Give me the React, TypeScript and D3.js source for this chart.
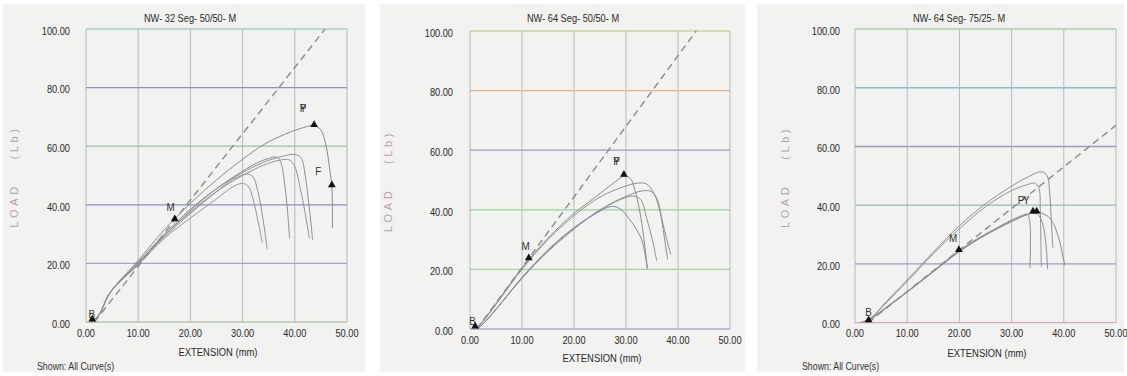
import React from 'react';
import * as d3 from 'd3';

type Pt = [number, number];

// ---------- shared ticks / labels ----------
const xTicks = [0, 10, 20, 30, 40, 50];
const yTicks = [0, 20, 40, 60, 80, 100];
const titles = ['NW- 32 Seg- 50/50- M', 'NW- 64 Seg- 50/50- M', 'NW- 64 Seg- 75/25- M'];
const xAxisTitle = 'EXTENSION  (mm)';
const yAxisTitleA = 'LOAD';
const yAxisTitleB = '(Lb)';
const footer = 'Shown: All Curve(s)';

// ---------- panel 1 : NW-32 Seg 50/50 ----------
const p1c1: Pt[] = [[1, 0], [2.5, 2.5], [4.6, 10], [10, 21], [15, 31.5], [20, 40.5], [25, 48.5], [30, 55.5], [34, 60.5], [38, 64], [41, 66], [43.7, 67], [45, 65.5], [46, 60], [46.7, 52], [47.1, 46.4], [47.2, 39], [47.2, 32]];
const p1c2: Pt[] = [[1, 0], [2.5, 2.5], [4.6, 10], [10, 20.5], [15, 30], [20, 38.5], [25, 45.5], [30, 51], [34, 54.5], [37.5, 56.5], [40, 57.2], [41.2, 56], [42, 50], [42.7, 40], [43.2, 32], [43.4, 28]];
const p1c3: Pt[] = [[1, 0], [2.5, 2.5], [4.6, 10], [10, 20], [15, 29.5], [20, 37.5], [25, 44.5], [30, 50], [34, 53.5], [37, 55.2], [39, 55.3], [40, 53], [41, 46], [42, 37], [42.8, 28.5]];
const p1c4: Pt[] = [[1, 0], [2.5, 2.5], [4.6, 10], [10, 20], [15, 29.5], [20, 38], [25, 45.5], [30, 51.5], [33, 54.5], [35, 55.8], [36.5, 56.3], [37.3, 54.5], [38, 48], [38.6, 38], [39, 28.5]];
const p1c5: Pt[] = [[1, 0], [2.5, 2.5], [4.6, 10], [10, 19.5], [15, 28.5], [20, 35.5], [25, 42], [28, 46], [29.8, 47.3], [31, 46.5], [32, 42], [33, 34], [33.8, 27]];
const p1c6: Pt[] = [[1, 0], [2.5, 2.5], [4.6, 10], [10, 20], [15, 29], [20, 37], [25, 44.5], [28, 48.5], [31, 50.5], [32, 49.5], [33, 44], [34, 34], [34.7, 25]];
const p1Dashed: Pt[] = [[1.6, 0], [45.8, 100]];
const p1Markers: Pt[] = [[1.2, 0.6], [17, 34.8], [43.7, 67], [47.1, 46.4]];
const p1LabelText = ['B', 'M', 'P', 'Y', 'F'];
const p1LabelPos: Pt[] = [[1.1, 2.6], [16.2, 39], [41.6, 72.9], [41.6, 72.9], [44.5, 51.3]];

// ---------- panel 2 : NW-64 Seg 50/50 ----------
const p2c1: Pt[] = [[1.2, 0], [3, 3.8], [6, 11], [10, 20.5], [15, 30.5], [20, 38.8], [23, 42.8], [26, 46.8], [28, 49.5], [29.6, 51.3], [30.8, 50.6], [31.8, 46], [32.8, 38], [33.6, 28], [34.1, 20.5]];
const p2c2: Pt[] = [[1.2, 0], [3, 3.6], [6, 10.6], [10, 20], [15, 30], [20, 38], [25, 44.3], [30, 48], [32.5, 49], [34, 48.6], [35.4, 45.5], [36.6, 39], [37.7, 31], [38.6, 25]];
const p2c3: Pt[] = [[1.5, 0], [3, 2.6], [6, 8.7], [10, 17], [15, 26], [20, 33.5], [25, 40], [30, 44.5], [33, 46.3], [34.8, 46.2], [36, 43.5], [37, 35], [37.6, 28], [38, 23.4]];
const p2c4: Pt[] = [[1.5, 0], [3, 2.6], [6, 8.7], [10, 17.3], [15, 26.3], [20, 33.8], [25, 39.7], [29, 43.5], [31.5, 44.6], [32.8, 43.5], [34, 37], [35.2, 29], [35.9, 22.8]];
const p2c5: Pt[] = [[1.5, 0], [3, 2.6], [6, 8.7], [10, 17.2], [15, 26.6], [20, 34], [24, 38.6], [27.2, 41.1], [28.8, 40.4], [30.6, 37], [32, 33.5], [33.2, 29], [34.1, 20]];
const p2Dashed: Pt[] = [[1.3, 0], [43.5, 100]];
const p2Markers: Pt[] = [[1, 0.6], [11.3, 23.5], [29.6, 51.5]];
const p2LabelText = ['B', 'M', 'P', 'Y'];
const p2LabelPos: Pt[] = [[0.5, 2.7], [10.7, 27.6], [28.2, 56.4], [28.2, 56.4]];

// ---------- panel 3 : NW-64 Seg 75/25 ----------
const p3c1: Pt[] = [[1, 0], [3, 1.6], [6, 7.2], [10, 14.6], [15, 24], [20, 33], [25, 40.5], [30, 46.5], [33, 49.5], [35.7, 51.4], [36.8, 50], [37.3, 44], [37.6, 35], [37.9, 25.5]];
const p3c2: Pt[] = [[1, 0], [3, 1.5], [6, 6.8], [10, 14], [15, 23.5], [20, 32], [25, 39.5], [30, 45], [33, 47], [34.4, 47.5], [35.2, 46], [35.5, 38], [35.6, 28], [35.7, 19]];
const p3c3: Pt[] = [[2, 0], [4, 2.6], [7, 6.6], [10, 10.6], [15, 17.6], [20, 24.6], [25, 30.2], [30, 34.6], [32.5, 36.5], [34.7, 37.6], [36.2, 37], [37.6, 35], [39, 29], [39.9, 22], [40.2, 19.5]];
const p3c4: Pt[] = [[2, 0], [4, 2.4], [7, 6.4], [10, 10.4], [15, 17.3], [20, 24.2], [25, 30], [30, 35], [32, 36.5], [33, 37], [33.5, 34], [33.6, 25], [33.5, 18.5]];
const p3c5: Pt[] = [[2, 0], [4, 2.5], [7, 6.5], [10, 10.5], [15, 17.4], [20, 24.4], [25, 29.8], [30, 34.4], [33, 36.8], [34.7, 37.3], [35.7, 35], [36.5, 28], [36.9, 18.2]];
const p3Dashed: Pt[] = [[2.5, 0], [50, 67.2]];
const p3Markers: Pt[] = [[2.6, 0.6], [19.9, 24.5], [34.1, 37.6], [34.8, 37.6]];
const p3LabelText = ['B', 'M', 'P', 'Y'];
const p3LabelPos: Pt[] = [[2.6, 3.4], [18.8, 28.7], [31.8, 41.8], [32.8, 41.8]];

// ---------- layout (pixel boxes and styles) ----------
const panels = [
  {
    curves: [p1c1, p1c2, p1c3, p1c4, p1c5, p1c6], curveColors: ['#8a8a8a', '#8f8f8f', '#939393', '#8d8d8d', '#969696', '#909090'],
    dashed: p1Dashed, markers: p1Markers, labelText: p1LabelText, labelPos: p1LabelPos,
    title: titles[0], left: 86, right: 347, top: 29, bottom: 322, paper: [3, 365],
    hColors: ['#b7c9b0', '#b39ccc', '#8a8cc4', '#8fc2a8', '#8a90c8', '#a8cfc0'],
    titleX: 190, extX: 218, extY: 352, yLabX: 70, axisLabX: 14, footerX: 37,
  },
  {
    curves: [p2c1, p2c2, p2c3, p2c4, p2c5], curveColors: ['#8a8a8a', '#909090', '#8c8c8c', '#939393', '#7f86a8'],
    dashed: p2Dashed, markers: p2Markers, labelText: p2LabelText, labelPos: p2LabelPos,
    title: titles[1], left: 470, right: 730, top: 31, bottom: 329, paper: [380, 745],
    hColors: ['#b6a4d2', '#a6d29c', '#9bd09a', '#9c9cc0', '#e2b488', '#c8d6a0'],
    titleX: 573, extX: 602, extY: 358, yLabX: 453, axisLabX: 388, footerX: -1,
  },
  {
    curves: [p3c1, p3c2, p3c3, p3c4, p3c5], curveColors: ['#8e8e8e', '#939393', '#8a8a8a', '#909090', '#8c8c8c'],
    dashed: p3Dashed, markers: p3Markers, labelText: p3LabelText, labelPos: p3LabelPos,
    title: titles[2], left: 855, right: 1116, top: 29, bottom: 322.7, paper: [757, 1124],
    hColors: ['#d6a8c4', '#9a9ad0', '#96b8b4', '#a896bc', '#86bccc', '#a8d2a8'],
    titleX: 959, extX: 987, extY: 353, yLabX: 840, axisLabX: 785, footerX: 802,
  },
];

const FONT = 'Arial, "Liberation Sans", Helvetica, sans-serif';

function Txt(props: { x: number; y: number; sx?: number; size: number; anchor?: string; fill?: string; children: React.ReactNode; weight?: number; ls?: number; rotate?: number }) {
  const { x, y, sx = 1, size, anchor = 'middle', fill = '#222', children, weight = 400, ls = 0, rotate = 0 } = props;
  return (
    <text
      transform={`translate(${x},${y}) rotate(${rotate}) scale(${sx},1)`}
      fontSize={size}
      fontFamily={FONT}
      textAnchor={anchor}
      dominantBaseline="central"
      fill={fill}
      fontWeight={weight}
      letterSpacing={ls}
    >
      {children}
    </text>
  );
}

function Panel({ p }: { p: (typeof panels)[number] }) {
  const x = d3.scaleLinear().domain([0, 50]).range([p.left, p.right]);
  const y = d3.scaleLinear().domain([0, 100]).range([p.bottom, p.top]);
  const line = d3
    .line<Pt>()
    .x((d) => x(d[0]))
    .y((d) => y(d[1]))
    .curve(d3.curveCatmullRom.alpha(0.5));
  const straight = d3
    .line<Pt>()
    .x((d) => x(d[0]))
    .y((d) => y(d[1]));
  const tri = d3.symbol().type(d3.symbolTriangle).size(26)();
  const midY = (p.top + p.bottom) / 2;
  return (
    <g>
      {xTicks.map((t) => (
        <line key={'v' + t} x1={x(t)} x2={x(t)} y1={y(100)} y2={y(0)} stroke="#b9b9b9" strokeWidth={1} />
      ))}
      {yTicks.map((t, i) => (
        <line key={'h' + t} x1={x(0)} x2={x(50)} y1={y(t)} y2={y(t)} stroke={p.hColors[i]} strokeWidth={1.3} />
      ))}
      {yTicks.map((t) => (
        <Txt key={'yl' + t} x={p.yLabX} y={y(t) + 2} size={11} sx={0.84} anchor="end" fill="#2a2a2a">
          {t.toFixed(2)}
        </Txt>
      ))}
      {xTicks.map((t) => (
        <Txt key={'xl' + t} x={x(t)} y={p.bottom + 11} size={11} sx={0.84} fill="#2a2a2a">
          {t.toFixed(2)}
        </Txt>
      ))}
      <Txt x={p.titleX} y={18} size={10.5} sx={0.88} fill="#2a2a2a">
        {p.title}
      </Txt>
      <Txt x={p.extX} y={p.extY} size={11.5} sx={0.82} fill="#2a2a2a">
        {xAxisTitle}
      </Txt>
      <Txt x={p.axisLabX} y={midY + 30} size={11} rotate={-90} ls={3.6} fill="#b89fae" weight={300}>
        {yAxisTitleA}
      </Txt>
      <Txt x={p.axisLabX} y={midY - 33} size={11} rotate={-90} ls={3.6} fill="#b89fae" weight={300}>
        {yAxisTitleB}
      </Txt>
      <path d={straight(p.dashed) || ''} fill="none" stroke="#8a8a8a" strokeWidth={1.4} strokeDasharray="7,4.5" />
      {p.curves.map((c, i) => (
        <path key={'c' + i} d={line(c) || ''} fill="none" stroke={p.curveColors[i]} strokeWidth={1} />
      ))}
      {p.markers.map((m, i) => (
        <path key={'m' + i} d={tri || ''} transform={`translate(${x(m[0])},${y(m[1]) - 1})`} fill="#111" />
      ))}
      {p.labelText.map((t, i) => (
        <Txt key={'pl' + i} x={x(p.labelPos[i][0])} y={y(p.labelPos[i][1])} size={11} sx={0.9} fill="#333">
          {t}
        </Txt>
      ))}
      {p.footerX > 0 && (
        <Txt x={p.footerX} y={366} size={10} sx={0.88} anchor="start" fill="#333">
          {footer}
        </Txt>
      )}
    </g>
  );
}

export default function App() {
  return (
    <svg
      width={1127}
      height={376}
      viewBox="0 0 1127 376"
      style={{ position: 'absolute', left: 0, top: 0, background: '#ffffff' }}
    >
      {panels.map((p, i) => (
        <rect key={'paper' + i} x={p.paper[0]} y={4} width={p.paper[1] - p.paper[0]} height={368} fill="#f2f2f0" />
      ))}
      {panels.map((p, i) => (
        <Panel key={i} p={p} />
      ))}
    </svg>
  );
}
